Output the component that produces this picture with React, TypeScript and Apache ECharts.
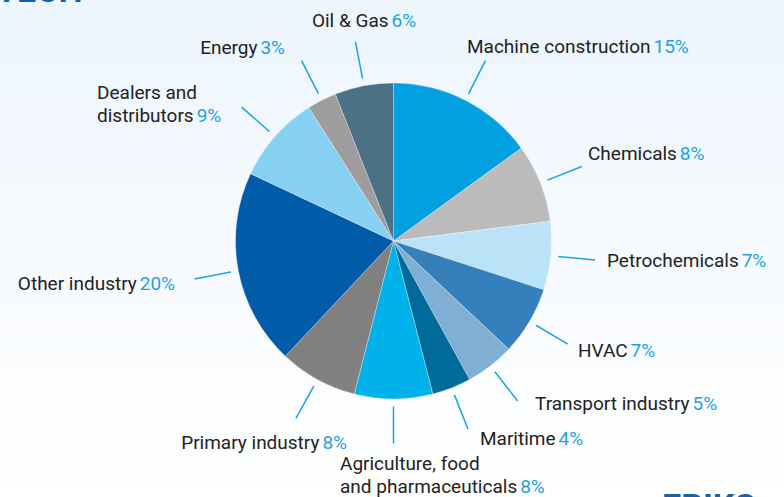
import React, { useEffect, useRef } from "react";
import * as echarts from "echarts";

const categories: string[] = [
  "Machine construction",
  "Chemicals",
  "Petrochemicals",
  "HVAC",
  "Transport industry",
  "Maritime",
  "Agriculture, food\nand pharmaceuticals",
  "Primary industry",
  "Other industry",
  "Dealers and\ndistributors",
  "Energy",
  "Oil & Gas",
];
const shares: number[] = [15, 8, 7, 7, 5, 4, 8, 8, 20, 9, 3, 6];

const palette: string[] = [
  "#00a0e1",
  "#bbbbbb",
  "#bae3f8",
  "#357fbb",
  "#80afd6",
  "#006b9b",
  "#00b1ea",
  "#808080",
  "#005ca9",
  "#86d0f4",
  "#9d9d9d",
  "#4c7185",
];

// label anchor layout (x, y, align) keyed by index
const labelLayoutTable: { x: number; y: number; align: string }[] = [
  { x: 467, y: 46, align: "left" },
  { x: 588, y: 153, align: "left" },
  { x: 607, y: 260, align: "left" },
  { x: 578, y: 350, align: "left" },
  { x: 535, y: 403, align: "left" },
  { x: 480, y: 438, align: "left" },
  { x: 340, y: 475, align: "left" },
  { x: 347, y: 442, align: "right" },
  { x: 175, y: 283, align: "right" },
  { x: 97, y: 104, align: "left" },
  { x: 285, y: 47, align: "right" },
  { x: 364, y: 20, align: "center" },
];

const FONT = "Roboto, 'Liberation Sans', Arial, sans-serif";

export default function App() {
  const ref = useRef<HTMLDivElement>(null);
  useEffect(() => {
    document.body.style.margin = "0";
    if (!ref.current) return;
    const chart = echarts.init(ref.current, null, { renderer: "svg" });
    const data = categories.map((c, i) => ({
      name: c,
      value: shares[i],
      itemStyle: { color: palette[i] },
    }));
    const center = [393.5, 241];
    chart.setOption({
      animation: false,
      backgroundColor: {
        type: "linear",
        x: 0,
        y: 0,
        x2: 0,
        y2: 1,
        colorStops: [
          { offset: 0, color: "#edf5fd" },
          { offset: 0.6, color: "#f8fbfe" },
          { offset: 1, color: "#ffffff" },
        ],
      },
      textStyle: { fontFamily: FONT },
      graphic: [
        {
          type: "text",
          left: -4,
          top: -27,
          style: {
            text: "TECH",
            fill: "#0f63ad",
            font: "bold 34px " + FONT,
          },
        },
        {
          type: "text",
          left: 662,
          top: 489,
          style: {
            text: "ERIKS",
            fill: "#1a5fa8",
            font: "bold 34px " + FONT,
          },
        },
      ],
      series: [
        {
          type: "pie",
          center,
          radius: [0, 158],
          startAngle: 90,
          clockwise: true,
          silent: true,
          label: { show: false },
          labelLine: { show: false },
          itemStyle: { borderColor: "rgba(255,255,255,0.5)", borderWidth: 0.6 },
          data,
        },
        {
          type: "pie",
          center,
          radius: [0, 165.5],
          startAngle: 90,
          clockwise: true,
          silent: true,
          avoidLabelOverlap: false,
          itemStyle: { color: "rgba(0,0,0,0)" },
          label: {
            show: true,
            position: "outside",
            formatter: (p: any) => `{n|${p.name}} {p|${p.value}%}`,
            rich: {
              n: { fontSize: 19, color: "#222222", fontFamily: FONT, lineHeight: 23 },
              p: { fontSize: 19, color: "#1ba3e3", fontFamily: FONT, lineHeight: 23 },
            },
          },
          labelLine: {
            show: true,
            length: 37,
            length2: 0,
            smooth: false,
            lineStyle: { color: "#1ba3e3", width: 1.5 },
          },
          labelLayout: (params: any) => {
            const l = labelLayoutTable[params.dataIndex];
            return {
              x: l.x,
              y: l.y,
              align: l.align,
              verticalAlign: "middle",
              labelLinePoints: params.labelLinePoints,
            };
          },
          data: data.map((d) => ({ name: d.name, value: d.value })),
        },
      ],
    });
    return () => chart.dispose();
  }, []);
  return <div ref={ref} style={{ width: 784, height: 497 }} />;
}
